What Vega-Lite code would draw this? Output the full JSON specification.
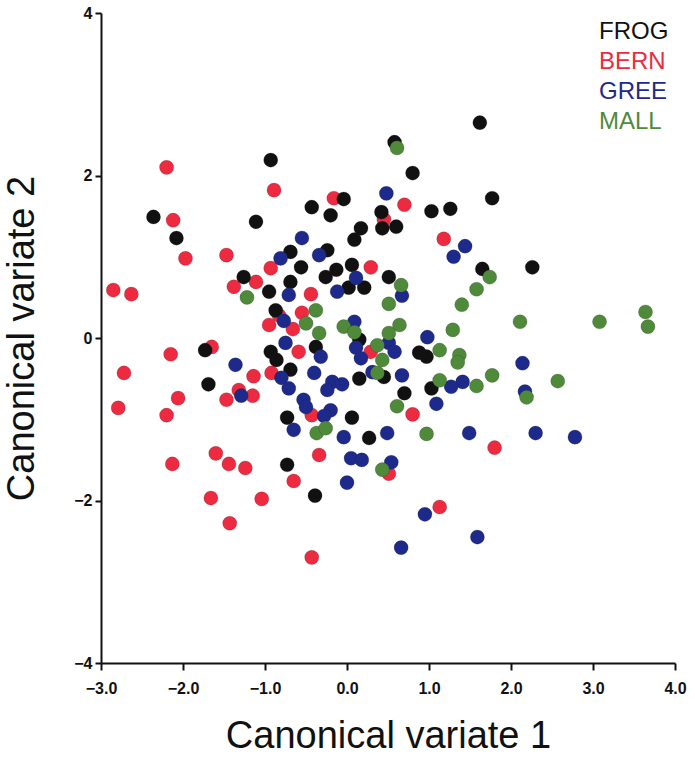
{
  "$schema": "https://vega.github.io/schema/vega-lite/v6.json",
  "autosize": {"type": "none"},
  "padding": {"left": 101, "top": 13, "right": 20, "bottom": 94},
  "width": 574,
  "height": 650,
  "background": "white",
  "config": {
    "view": {"stroke": null},
    "font": "Liberation Sans"
  },
  "data": {
    "values": [
      {"pop": "FROG", "cv1": -0.93, "cv2": 2.19},
      {"pop": "FROG", "cv1": -2.36, "cv2": 1.49},
      {"pop": "FROG", "cv1": -2.08, "cv2": 1.23},
      {"pop": "FROG", "cv1": -1.11, "cv2": 1.43},
      {"pop": "FROG", "cv1": -0.69, "cv2": 1.06},
      {"pop": "FROG", "cv1": -1.26, "cv2": 0.75},
      {"pop": "FROG", "cv1": -0.95, "cv2": 0.57},
      {"pop": "FROG", "cv1": -0.69, "cv2": 0.69},
      {"pop": "FROG", "cv1": 1.62, "cv2": 2.65},
      {"pop": "FROG", "cv1": 0.58, "cv2": 2.41},
      {"pop": "FROG", "cv1": 0.80, "cv2": 2.03},
      {"pop": "FROG", "cv1": -0.04, "cv2": 1.71},
      {"pop": "FROG", "cv1": -0.43, "cv2": 1.61},
      {"pop": "FROG", "cv1": -0.20, "cv2": 1.51},
      {"pop": "FROG", "cv1": 0.42, "cv2": 1.55},
      {"pop": "FROG", "cv1": 0.60, "cv2": 1.37},
      {"pop": "FROG", "cv1": 0.43, "cv2": 1.35},
      {"pop": "FROG", "cv1": 1.03, "cv2": 1.56},
      {"pop": "FROG", "cv1": 1.26, "cv2": 1.59},
      {"pop": "FROG", "cv1": 0.17, "cv2": 1.35},
      {"pop": "FROG", "cv1": 0.09, "cv2": 1.21},
      {"pop": "FROG", "cv1": -0.24, "cv2": 1.08},
      {"pop": "FROG", "cv1": -0.56, "cv2": 0.87},
      {"pop": "FROG", "cv1": -0.26, "cv2": 0.75},
      {"pop": "FROG", "cv1": -0.13, "cv2": 0.84},
      {"pop": "FROG", "cv1": 0.06, "cv2": 0.90},
      {"pop": "FROG", "cv1": 0.51, "cv2": 0.75},
      {"pop": "FROG", "cv1": 1.65, "cv2": 0.85},
      {"pop": "FROG", "cv1": 0.02, "cv2": 0.62},
      {"pop": "FROG", "cv1": 0.21, "cv2": 0.62},
      {"pop": "FROG", "cv1": 1.77, "cv2": 1.72},
      {"pop": "FROG", "cv1": 2.26, "cv2": 0.87},
      {"pop": "FROG", "cv1": -0.87, "cv2": 0.34},
      {"pop": "FROG", "cv1": -1.73, "cv2": -0.15},
      {"pop": "FROG", "cv1": -0.93, "cv2": -0.17},
      {"pop": "FROG", "cv1": -0.86, "cv2": -0.27},
      {"pop": "FROG", "cv1": -0.69, "cv2": -0.39},
      {"pop": "FROG", "cv1": -1.69, "cv2": -0.57},
      {"pop": "FROG", "cv1": -0.73, "cv2": -0.98},
      {"pop": "FROG", "cv1": -0.73, "cv2": -1.56},
      {"pop": "FROG", "cv1": -0.38, "cv2": -0.11},
      {"pop": "FROG", "cv1": 0.15, "cv2": -0.02},
      {"pop": "FROG", "cv1": 0.88, "cv2": -0.18},
      {"pop": "FROG", "cv1": 0.97, "cv2": -0.23},
      {"pop": "FROG", "cv1": 0.45, "cv2": -0.48},
      {"pop": "FROG", "cv1": 0.15, "cv2": -0.50},
      {"pop": "FROG", "cv1": 1.03, "cv2": -0.62},
      {"pop": "FROG", "cv1": 0.70, "cv2": -0.68},
      {"pop": "FROG", "cv1": 0.06, "cv2": -0.98},
      {"pop": "FROG", "cv1": 0.27, "cv2": -1.23},
      {"pop": "FROG", "cv1": -0.39, "cv2": -1.94},

      {"pop": "BERN", "cv1": -2.20, "cv2": 2.10},
      {"pop": "BERN", "cv1": -0.89, "cv2": 1.82},
      {"pop": "BERN", "cv1": -2.12, "cv2": 1.45},
      {"pop": "BERN", "cv1": -1.97, "cv2": 0.98},
      {"pop": "BERN", "cv1": -1.47, "cv2": 1.02},
      {"pop": "BERN", "cv1": -0.93, "cv2": 0.86},
      {"pop": "BERN", "cv1": -1.38, "cv2": 0.63},
      {"pop": "BERN", "cv1": -1.11, "cv2": 0.69},
      {"pop": "BERN", "cv1": -2.85, "cv2": 0.59},
      {"pop": "BERN", "cv1": -2.63, "cv2": 0.54},
      {"pop": "BERN", "cv1": -0.16, "cv2": 1.72},
      {"pop": "BERN", "cv1": 0.70, "cv2": 1.64},
      {"pop": "BERN", "cv1": 0.45, "cv2": 1.46},
      {"pop": "BERN", "cv1": 1.18, "cv2": 1.22},
      {"pop": "BERN", "cv1": 0.29, "cv2": 0.87},
      {"pop": "BERN", "cv1": -0.44, "cv2": 0.54},
      {"pop": "BERN", "cv1": -0.83, "cv2": 0.28},
      {"pop": "BERN", "cv1": -0.95, "cv2": 0.16},
      {"pop": "BERN", "cv1": -0.66, "cv2": 0.11},
      {"pop": "BERN", "cv1": -1.65, "cv2": -0.11},
      {"pop": "BERN", "cv1": -2.15, "cv2": -0.20},
      {"pop": "BERN", "cv1": -2.72, "cv2": -0.43},
      {"pop": "BERN", "cv1": -1.14, "cv2": -0.47},
      {"pop": "BERN", "cv1": -0.92, "cv2": -0.43},
      {"pop": "BERN", "cv1": -1.47, "cv2": -0.76},
      {"pop": "BERN", "cv1": -1.32, "cv2": -0.64},
      {"pop": "BERN", "cv1": -1.15, "cv2": -0.71},
      {"pop": "BERN", "cv1": -2.06, "cv2": -0.74},
      {"pop": "BERN", "cv1": -2.79, "cv2": -0.86},
      {"pop": "BERN", "cv1": -2.20, "cv2": -0.95},
      {"pop": "BERN", "cv1": -1.60, "cv2": -1.42},
      {"pop": "BERN", "cv1": -1.44, "cv2": -1.55},
      {"pop": "BERN", "cv1": -1.24, "cv2": -1.60},
      {"pop": "BERN", "cv1": -2.13, "cv2": -1.55},
      {"pop": "BERN", "cv1": -0.65, "cv2": -1.76},
      {"pop": "BERN", "cv1": -0.55, "cv2": 0.31},
      {"pop": "BERN", "cv1": -0.59, "cv2": -0.17},
      {"pop": "BERN", "cv1": 0.29, "cv2": -0.17},
      {"pop": "BERN", "cv1": -0.43, "cv2": -0.95},
      {"pop": "BERN", "cv1": 0.80, "cv2": -0.94},
      {"pop": "BERN", "cv1": -0.34, "cv2": -1.44},
      {"pop": "BERN", "cv1": 0.51, "cv2": -1.67},
      {"pop": "BERN", "cv1": 1.80, "cv2": -1.35},
      {"pop": "BERN", "cv1": -1.66, "cv2": -1.97},
      {"pop": "BERN", "cv1": -1.04, "cv2": -1.98},
      {"pop": "BERN", "cv1": -1.43, "cv2": -2.28},
      {"pop": "BERN", "cv1": 1.13, "cv2": -2.08},
      {"pop": "BERN", "cv1": -0.43, "cv2": -2.70},

      {"pop": "GREE", "cv1": -0.81, "cv2": 0.98},
      {"pop": "GREE", "cv1": -0.71, "cv2": 0.53},
      {"pop": "GREE", "cv1": 0.48, "cv2": 1.78},
      {"pop": "GREE", "cv1": -0.55, "cv2": 1.23},
      {"pop": "GREE", "cv1": 1.44, "cv2": 1.13},
      {"pop": "GREE", "cv1": 1.30, "cv2": 1.00},
      {"pop": "GREE", "cv1": -0.34, "cv2": 1.02},
      {"pop": "GREE", "cv1": 0.11, "cv2": 0.74},
      {"pop": "GREE", "cv1": -0.12, "cv2": 0.57},
      {"pop": "GREE", "cv1": 0.67, "cv2": 0.52},
      {"pop": "GREE", "cv1": -0.77, "cv2": 0.21},
      {"pop": "GREE", "cv1": -0.75, "cv2": -0.06},
      {"pop": "GREE", "cv1": -1.36, "cv2": -0.33},
      {"pop": "GREE", "cv1": -0.80, "cv2": -0.49},
      {"pop": "GREE", "cv1": -0.71, "cv2": -0.62},
      {"pop": "GREE", "cv1": -1.29, "cv2": -0.71},
      {"pop": "GREE", "cv1": -0.65, "cv2": -1.13},
      {"pop": "GREE", "cv1": 0.09, "cv2": 0.20},
      {"pop": "GREE", "cv1": 0.98, "cv2": 0.01},
      {"pop": "GREE", "cv1": -0.32, "cv2": -0.23},
      {"pop": "GREE", "cv1": 0.11, "cv2": -0.12},
      {"pop": "GREE", "cv1": 0.17, "cv2": -0.25},
      {"pop": "GREE", "cv1": 0.51, "cv2": -0.06},
      {"pop": "GREE", "cv1": 0.58, "cv2": -0.17},
      {"pop": "GREE", "cv1": -0.40, "cv2": -0.43},
      {"pop": "GREE", "cv1": 0.31, "cv2": -0.42},
      {"pop": "GREE", "cv1": 0.67, "cv2": -0.46},
      {"pop": "GREE", "cv1": -0.18, "cv2": -0.54},
      {"pop": "GREE", "cv1": -0.06, "cv2": -0.57},
      {"pop": "GREE", "cv1": -0.24, "cv2": -0.64},
      {"pop": "GREE", "cv1": 1.41, "cv2": -0.54},
      {"pop": "GREE", "cv1": 1.27, "cv2": -0.60},
      {"pop": "GREE", "cv1": -0.53, "cv2": -0.76},
      {"pop": "GREE", "cv1": -0.50, "cv2": -0.85},
      {"pop": "GREE", "cv1": -0.20, "cv2": -0.89},
      {"pop": "GREE", "cv1": -0.28, "cv2": -0.96},
      {"pop": "GREE", "cv1": 1.09, "cv2": -0.81},
      {"pop": "GREE", "cv1": -0.04, "cv2": -1.22},
      {"pop": "GREE", "cv1": 0.49, "cv2": -1.17},
      {"pop": "GREE", "cv1": 1.49, "cv2": -1.17},
      {"pop": "GREE", "cv1": 0.05, "cv2": -1.48},
      {"pop": "GREE", "cv1": 0.18, "cv2": -1.50},
      {"pop": "GREE", "cv1": 0.54, "cv2": -1.53},
      {"pop": "GREE", "cv1": 0.00, "cv2": -1.78},
      {"pop": "GREE", "cv1": 0.95, "cv2": -2.17},
      {"pop": "GREE", "cv1": 1.59, "cv2": -2.45},
      {"pop": "GREE", "cv1": 0.66, "cv2": -2.58},
      {"pop": "GREE", "cv1": 2.14, "cv2": -0.31},
      {"pop": "GREE", "cv1": 2.17, "cv2": -0.66},
      {"pop": "GREE", "cv1": 2.30, "cv2": -1.17},
      {"pop": "GREE", "cv1": 2.78, "cv2": -1.22},

      {"pop": "MALL", "cv1": 0.61, "cv2": 2.34},
      {"pop": "MALL", "cv1": -1.22, "cv2": 0.50},
      {"pop": "MALL", "cv1": 0.66, "cv2": 0.65},
      {"pop": "MALL", "cv1": 1.58, "cv2": 0.60},
      {"pop": "MALL", "cv1": 1.74, "cv2": 0.75},
      {"pop": "MALL", "cv1": 0.51, "cv2": 0.42},
      {"pop": "MALL", "cv1": 1.40, "cv2": 0.41},
      {"pop": "MALL", "cv1": -0.38, "cv2": 0.34},
      {"pop": "MALL", "cv1": -0.50, "cv2": 0.18},
      {"pop": "MALL", "cv1": -0.34, "cv2": 0.06},
      {"pop": "MALL", "cv1": -0.04, "cv2": 0.14},
      {"pop": "MALL", "cv1": 0.09, "cv2": 0.07},
      {"pop": "MALL", "cv1": 0.64, "cv2": 0.16},
      {"pop": "MALL", "cv1": 0.51, "cv2": 0.06},
      {"pop": "MALL", "cv1": 1.29, "cv2": 0.10},
      {"pop": "MALL", "cv1": 0.37, "cv2": -0.09},
      {"pop": "MALL", "cv1": 0.43, "cv2": -0.27},
      {"pop": "MALL", "cv1": 1.13, "cv2": -0.15},
      {"pop": "MALL", "cv1": 1.37, "cv2": -0.21},
      {"pop": "MALL", "cv1": 1.35, "cv2": -0.30},
      {"pop": "MALL", "cv1": 1.77, "cv2": -0.46},
      {"pop": "MALL", "cv1": 0.37, "cv2": -0.43},
      {"pop": "MALL", "cv1": 1.13, "cv2": -0.52},
      {"pop": "MALL", "cv1": 1.58, "cv2": -0.59},
      {"pop": "MALL", "cv1": 0.61, "cv2": -0.84},
      {"pop": "MALL", "cv1": -0.37, "cv2": -1.17},
      {"pop": "MALL", "cv1": -0.26, "cv2": -1.11},
      {"pop": "MALL", "cv1": 0.97, "cv2": -1.18},
      {"pop": "MALL", "cv1": 0.43, "cv2": -1.62},
      {"pop": "MALL", "cv1": 2.11, "cv2": 0.20},
      {"pop": "MALL", "cv1": 3.08, "cv2": 0.20},
      {"pop": "MALL", "cv1": 3.64, "cv2": 0.32},
      {"pop": "MALL", "cv1": 3.67, "cv2": 0.14},
      {"pop": "MALL", "cv1": 2.57, "cv2": -0.53},
      {"pop": "MALL", "cv1": 2.19, "cv2": -0.73}
    ]
  },
  "mark": {"type": "circle", "size": 200, "opacity": 1, "stroke": "#222222", "strokeOpacity": 0.25, "strokeWidth": 0.8},
  "encoding": {
    "x": {
      "field": "cv1", "type": "quantitative",
      "scale": {"domain": [-3, 4], "nice": false, "zero": false},
      "axis": {
        "title": "Canonical variate 1",
        "values": [-3, -2, -1, 0, 1, 2, 3, 4],
        "format": ".1f",
        "grid": false,
        "domainColor": "#111111", "domainWidth": 2,
        "tickColor": "#111111", "tickWidth": 2, "tickSize": 7,
        "labelFont": "Liberation Sans", "labelFontSize": 16, "labelFontWeight": "bold", "labelColor": "#111111",
        "labelPadding": 10, "labelFlush": false,
        "titleFont": "Liberation Sans", "titleFontSize": 38, "titleFontWeight": "normal", "titleColor": "#111111",
        "titlePadding": 21
      }
    },
    "y": {
      "field": "cv2", "type": "quantitative",
      "scale": {"domain": [-4, 4], "nice": false, "zero": false},
      "axis": {
        "title": "Canonical variate 2",
        "values": [-4, -2, 0, 2, 4],
        "format": "d",
        "grid": false,
        "domainColor": "#111111", "domainWidth": 2,
        "tickColor": "#111111", "tickWidth": 2, "tickSize": 6,
        "labelFont": "Liberation Sans", "labelFontSize": 16, "labelFontWeight": "bold", "labelColor": "#111111",
        "labelPadding": 3, "labelFlush": false,
        "titleFont": "Liberation Sans", "titleFontSize": 38, "titleFontWeight": "normal", "titleColor": "#111111",
        "titlePadding": 32
      }
    },
    "color": {
      "field": "pop", "type": "nominal",
      "scale": {"domain": ["FROG", "BERN", "GREE", "MALL"], "range": ["#111111", "#ee2a40", "#1d2a8c", "#4f8a3b"]},
      "legend": {
        "title": null,
        "orient": "none",
        "legendX": 474,
        "legendY": 7,
        "symbolSize": 0,
        "symbolOpacity": 0,
        "symbolStrokeWidth": 0,
        "labelOffset": 0,
        "labelFont": "Liberation Sans",
        "labelFontSize": 24,
        "labelColor": {"expr": "scale('color', datum.value)"},
        "rowPadding": 6,
        "labelLimit": 200
      }
    },
    "order": {"field": "pop", "sort": "ascending"}
  }
}
